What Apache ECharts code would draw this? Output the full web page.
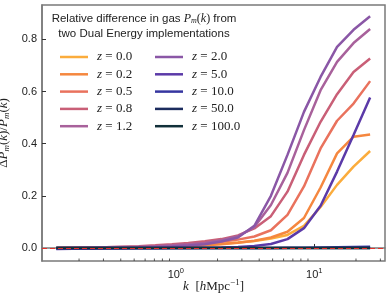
<!DOCTYPE html>
<html><head><meta charset="utf-8">
<script src="https://cdn.jsdelivr.net/npm/echarts@6/dist/echarts.min.js"></script>
<style>html,body{margin:0;padding:0;background:#fff}#c{width:391px;height:299px}</style>
</head><body><div id="c"></div>
<script>
// k values [h Mpc^-1]
const kValues = [0.137,0.180,0.237,0.312,0.411,0.540,0.711,0.936,1.23,1.62,2.13,2.81,3.69,4.86,6.40,8.42,11.1,14.6,19.2,25.3];
const z00  = [0,0,0,0.001,0.001,0.002,0.003,0.005,0.008,0.012,0.016,0.021,0.027,0.036,0.050,0.085,0.157,0.242,0.312,0.372];
const z02  = [0,0,0,0.001,0.001,0.002,0.003,0.005,0.007,0.010,0.014,0.020,0.028,0.040,0.062,0.115,0.232,0.363,0.427,0.435];
const z05  = [0,0,0.001,0.002,0.003,0.004,0.006,0.009,0.013,0.018,0.024,0.032,0.044,0.068,0.127,0.236,0.382,0.488,0.554,0.640];
const z08  = [0,0.001,0.002,0.003,0.005,0.007,0.010,0.014,0.019,0.026,0.034,0.048,0.075,0.122,0.216,0.357,0.484,0.590,0.675,0.727];
const z12  = [0,0.001,0.002,0.003,0.004,0.005,0.007,0.010,0.014,0.019,0.030,0.045,0.080,0.165,0.288,0.452,0.605,0.714,0.786,0.840];
const z20  = [-0.003,-0.002,-0.001,0,0.001,0.002,0.004,0.006,0.009,0.014,0.025,0.040,0.085,0.200,0.357,0.522,0.656,0.771,0.837,0.889];
const z50  = [-0.004,-0.003,-0.003,-0.002,-0.002,-0.001,-0.001,0,0,0.001,0.002,0.004,0.008,0.015,0.034,0.076,0.162,0.293,0.433,0.577];
const z100 = [0,0,0,0,0,0,0,0,0,0,0,0,0,0,0.001,0.001,0.002,0.003,0.004,0.005];
const z500 = [0,0,0,0,0,0,0,0,0,0,0,0,0,0,0,0,0,0,0,0];
const z1000= [0,0,0,0,0,0,0,0,0,0,0,0,0,0,0,0,0,0,0,0];
const seriesNames = ['z=0.0','z=0.2','z=0.5','z=0.8','z=1.2','z=2.0','z=5.0','z=10.0','z=50.0','z=100.0'];
const seriesValues = [z00,z02,z05,z08,z12,z20,z50,z100,z500,z1000];
const seriesColors = ['#fbac3c','#f5873f','#e9725d','#c95f77','#a8619b','#8a57a6','#5b3aa8','#3636a0','#1c2c5e','#12303a'];
const minorTickValues = [0.2,0.3,0.4,0.5,0.6,0.7,0.8,0.9,2,3,4,5,6,7,8,9,20,30];

const chart = echarts.init(document.getElementById('c'), null, {renderer:'canvas'});
const serif = 'Liberation Serif';
const sans = 'Liberation Sans';
const axisCol = '#7a7a7a';

const series = seriesNames.map((n,i)=>({
  name: n, type:'line', showSymbol:false, symbol:'none',
  data: kValues.map((k,j)=>[k, seriesValues[i][j]]),
  lineStyle:{width:2.5, color:seriesColors[i]}, itemStyle:{color:seriesColors[i]},
  z: 2+i, animation:false,
  markLine: i===seriesNames.length-1 ? {
    silent:true, symbol:['none','none'], label:{show:false},
    lineStyle:{color:'#e3312b', type:[5,3], width:1.2},
    data:[{yAxis:0}], animation:false, z: 20
  } : undefined
}));
series.push({
  type:'custom', name:'minorTicks', silent:true, animation:false, z:30,
  data: minorTickValues.map(v=>[v, -0.05]),
  renderItem:(params, api)=>{
    const p = api.coord([api.value(0), api.value(1)]);
    return {type:'line', shape:{x1:p[0], y1:p[1], x2:p[0], y2:p[1]-2.5}, style:{stroke:'#333', lineWidth:0.8}};
  }
});

const legendRich = {
  i:{fontFamily:serif, fontStyle:'italic', fontSize:13, color:'#222'},
  t:{fontFamily:serif, fontSize:13, color:'#222'}
};
const legendFmt = n => '{i|z}{t| = ' + n.slice(2) + '}';
const legendCommon = {
  orient:'vertical', icon:'rect', itemWidth:28, itemHeight:2.5, itemGap:3.3, padding:0,
  textStyle:{lineHeight:14, padding:[0,0,0,4], rich:legendRich}, formatter:legendFmt,
  selectedMode:false
};

chart.setOption({
  animation:false,
  grid:{left:42, right:6, top:5, bottom:38, outerBoundsMode:'none', containLabel:false,
        show:true, borderColor:axisCol, borderWidth:1.5, backgroundColor:'transparent'},
  xAxis:{
    type:'log', logBase:10, min:0.108, max:32.4,
    name:'{k|k}  {n|[}{h|h}{r|Mpc}{sup|−1}{n|]}', nameLocation:'middle', nameGap:17, nameMoveOverlap:false,
    nameTextStyle:{color:'#222', verticalAlign:'top', rich:{
      k:{fontFamily:serif, fontStyle:'italic', fontSize:13},
      h:{fontFamily:serif, fontStyle:'italic', fontSize:13},
      n:{fontFamily:serif, fontSize:13},
      r:{fontFamily:serif, fontSize:13},
      sup:{fontFamily:serif, fontSize:9, padding:[0,0,8,0]}
    }},
    axisLine:{show:true, lineStyle:{color:axisCol, width:1.5}},
    axisTick:{show:true, inside:true, length:4, lineStyle:{color:'#333', width:1}},
    splitLine:{show:false},
    axisLabel:{
      showMinLabel:false, showMaxLabel:false, color:'#222', margin:6,
      formatter: v => { const e = Math.round(Math.log10(v)); return Math.abs(Math.log10(v)-e)<1e-6 ? '{b|10}{e|'+e+'}' : ''; },
      rich:{b:{fontFamily:sans, fontSize:11, color:'#222'}, e:{fontFamily:sans, fontSize:7.5, color:'#222', padding:[0,0,7,0]}}
    }
  },
  yAxis:{
    type:'value', min:-0.05, max:0.932,
    name:'{d|Δ}{P|P}{s|m}{n|(}{k|k}{n|)/}{P|P}{s|m}{n|(}{k|k}{n|)}', nameLocation:'middle', nameGap:27, nameRotate:90,
    nameTextStyle:{color:'#222', rich:{
      d:{fontFamily:serif, fontSize:13},
      P:{fontFamily:serif, fontStyle:'italic', fontSize:13},
      k:{fontFamily:serif, fontStyle:'italic', fontSize:13},
      n:{fontFamily:serif, fontSize:13},
      s:{fontFamily:serif, fontStyle:'italic', fontSize:9, padding:[5,0,0,0]}
    }},
    axisLine:{show:true, lineStyle:{color:axisCol, width:1.5}},
    axisTick:{show:true, inside:true, length:4, lineStyle:{color:'#333', width:1}},
    splitLine:{show:false},
    axisLabel:{showMinLabel:false, showMaxLabel:false, color:'#222', fontFamily:sans, fontSize:11, margin:5,
      formatter: v => v.toFixed(1)}
  },
  legend:[
    Object.assign({left:60, top:50, data:seriesNames.slice(0,5)}, legendCommon),
    Object.assign({left:155, top:50, data:seriesNames.slice(5)}, legendCommon)
  ],
  graphic:[{
    type:'text', x:144, y:11, z:50,
    style:{
      text:'{a|Relative difference in gas }{P|P}{s|m}{n|(}{k|k}{n|)}{a| from}\n{a|two Dual Energy implementations}',
      align:'center', fill:'#222',
      rich:{
        a:{fontFamily:sans, fontSize:11.5, fill:'#222', lineHeight:15},
        P:{fontFamily:serif, fontStyle:'italic', fontSize:12, fill:'#222'},
        k:{fontFamily:serif, fontStyle:'italic', fontSize:12, fill:'#222'},
        n:{fontFamily:serif, fontSize:12, fill:'#222'},
        s:{fontFamily:serif, fontStyle:'italic', fontSize:8, fill:'#222', padding:[5,0,0,0]}
      }
    }
  }],
  series: series
});
</script></body></html>
